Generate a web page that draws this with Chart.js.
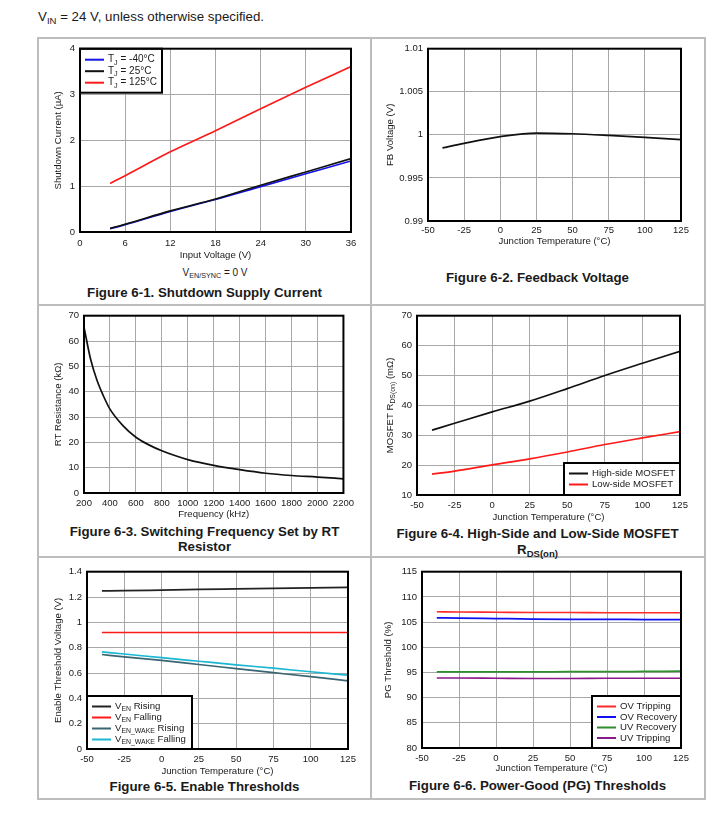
<!DOCTYPE html>
<html>
<head>
<meta charset="utf-8">
<script src="https://cdn.jsdelivr.net/npm/chart.js@4.4.0/dist/chart.umd.min.js"></script>
<style>
body { margin: 0; background: #fff; width: 719px; height: 821px; position: relative; overflow: hidden;
       font-family: "Liberation Sans", Arial, sans-serif; color: #1a1a1a; }
.ln { position: absolute; background: #bdbdbd; }
canvas { position: absolute; }
.txt { position: absolute; white-space: nowrap; transform: translate(-50%, -50%); text-align: center; }
.cap { font-weight: bold; font-size: 13.3px; line-height: 16px; }
sub { font-size: 72%; vertical-align: -0.28em; line-height: 0; }
</style>
</head>
<body>
<div style="position:absolute;left:38px;top:8px;font-size:13.3px;line-height:17px;white-space:nowrap">V<sub>IN</sub> = 24 V, unless otherwise specified.</div>

<!-- cell borders -->
<div class="ln" style="left:37px;top:37px;width:669px;height:2px"></div>
<div class="ln" style="left:37px;top:304px;width:669px;height:2px"></div>
<div class="ln" style="left:37px;top:556px;width:669px;height:2px"></div>
<div class="ln" style="left:37px;top:798px;width:669px;height:2px"></div>
<div class="ln" style="left:37px;top:37px;width:2px;height:763px"></div>
<div class="ln" style="left:370px;top:37px;width:2px;height:763px"></div>
<div class="ln" style="left:704px;top:37px;width:2px;height:763px"></div>

<div class="txt" style="left:215px;top:272px;font-size:10px">V<sub>EN/SYNC</sub> = 0 V</div>
<div class="txt cap" style="left:204.5px;top:293px">Figure 6-1. Shutdown Supply Current</div>
<div class="txt cap" style="left:537.5px;top:278px">Figure 6-2. Feedback Voltage</div>
<div class="txt cap" style="left:204.5px;top:538.5px;line-height:15.5px">Figure 6-3. Switching Frequency Set by RT<br>Resistor</div>
<div class="txt cap" style="left:537.5px;top:542px">Figure 6-4. High-Side and Low-Side MOSFET<br>R<sub>DS(on)</sub></div>
<div class="txt cap" style="left:204.5px;top:787px">Figure 6-5. Enable Thresholds</div>
<div class="txt cap" style="left:537.5px;top:786px">Figure 6-6. Power-Good (PG) Thresholds</div>

<script>
// Figure 6-1: shutdown current vs input voltage
var vinV = [4, 6, 12, 18, 24, 30, 36];
var iqM40 = [0.07, 0.16, 0.45, 0.71, 0.99, 1.27, 1.55];
var iq25 = [0.08, 0.17, 0.46, 0.72, 1.02, 1.31, 1.60];
var iq125 = [1.06, 1.23, 1.75, 2.21, 2.69, 3.16, 3.61];

// shared temperature axis (figures 6-2, 6-4, 6-5, 6-6)
var tempC = [-40, -25, 0, 25, 50, 75, 100, 125];

// Figure 6-2: feedback voltage
var fbVolt = [0.99848, 0.99902, 0.99979, 1.00021, 1.00013, 0.99994, 0.99971, 0.99944];

// Figure 6-3: RT resistance vs frequency
var freqKHz = [200, 250, 300, 350, 400, 500, 600, 700, 800, 900, 1000, 1200, 1400, 1600, 1800, 2000, 2200];
var rtKOhm = [65.5, 53, 44.5, 38.3, 33.1, 26.6, 22, 19, 16.7, 14.8, 13.2, 10.9, 9.2, 7.8, 6.9, 6.3, 5.6];

// Figure 6-4: MOSFET Rds(on)
var rdsHigh = [31.7, 34, 37.8, 41.4, 45.6, 50, 54.1, 58.1];
var rdsLow = [17, 18, 20.1, 22.1, 24.4, 26.9, 29.1, 31.2];

// Figure 6-5: enable thresholds
var enRise = [1.248, 1.25, 1.255, 1.26, 1.264, 1.268, 1.272, 1.276];
var enFall = [0.92, 0.92, 0.92, 0.92, 0.92, 0.92, 0.92, 0.92];
var wakeRise = [0.746, 0.728, 0.700, 0.667, 0.635, 0.603, 0.571, 0.538];
var wakeFall = [0.767, 0.750, 0.721, 0.693, 0.665, 0.638, 0.610, 0.583];

// Figure 6-6: PG thresholds
var ovTrip = [107.05, 107.0, 106.95, 106.9, 106.9, 106.85, 106.85, 106.85];
var ovRec = [105.85, 105.8, 105.7, 105.6, 105.55, 105.55, 105.5, 105.5];
var uvRec = [95.1, 95.1, 95.1, 95.1, 95.15, 95.15, 95.2, 95.25];
var uvTrip = [93.9, 93.9, 93.85, 93.8, 93.8, 93.85, 93.85, 93.85];

var FONT = '"Liberation Sans", Arial, sans-serif';
var GRID = '#a8a8a8';
var TXT = '#1a1a1a';

function fmt(v) { return String(Math.round(v * 10000) / 10000); }

// text with subscripts: segs = [[text, isSub], ...]
function drawRich(ctx, segs, x, y, size, align) {
	var w = 0;
	segs.forEach(function (s) {
		ctx.font = (s[1] ? size * 0.72 : size) + 'px ' + FONT;
		w += ctx.measureText(s[0]).width;
	});
	var cx = align === 'center' ? x - w / 2 : x;
	ctx.textBaseline = 'middle';
	ctx.textAlign = 'left';
	ctx.fillStyle = TXT;
	segs.forEach(function (s) {
		ctx.font = (s[1] ? size * 0.72 : size) + 'px ' + FONT;
		ctx.fillText(s[0], cx, y + (s[1] ? size * 0.3 : 0));
		cx += ctx.measureText(s[0]).width;
	});
}

var framePlugin = {
	id: 'frame',
	afterDraw: function (chart) {
		var a = chart.chartArea, ctx = chart.ctx;
		ctx.save();
		ctx.strokeStyle = '#000';
		ctx.lineWidth = 2;
		ctx.strokeRect(a.left, a.top, a.right - a.left, a.bottom - a.top);
		ctx.restore();
	}
};

function legendPlugin(lg) {
	return {
		id: 'richLegend',
		afterDraw: function (chart) {
			if (!lg) return;
			var a = chart.chartArea, ctx = chart.ctx;
			var x = lg.corner[0] === 'l' ? a.left : a.right - lg.w;
			var y = lg.corner[1] === 't' ? a.top : a.bottom - lg.h;
			ctx.save();
			ctx.fillStyle = '#fff';
			ctx.fillRect(x, y, lg.w, lg.h);
			ctx.strokeStyle = '#000';
			ctx.lineWidth = 2;
			ctx.strokeRect(x, y, lg.w, lg.h);
			lg.rows.forEach(function (r, i) {
				var ry = y + lg.first + i * lg.gap;
				ctx.strokeStyle = r.color;
				ctx.lineWidth = 2;
				ctx.beginPath();
				ctx.moveTo(x + 5, ry);
				ctx.lineTo(x + 24, ry);
				ctx.stroke();
				drawRich(ctx, r.text, x + 28, ry, lg.size || 9.6, 'left');
			});
			ctx.restore();
		}
	};
}

function yTitlePlugin(segs) {
	return {
		id: 'richYTitle',
		afterDraw: function (chart) {
			if (!segs) return;
			var a = chart.chartArea, ctx = chart.ctx;
			ctx.save();
			ctx.translate(6, (a.top + a.bottom) / 2);
			ctx.rotate(-Math.PI / 2);
			drawRich(ctx, segs, 0, 0, 9.6, 'center');
			ctx.restore();
		}
	};
}

function makeChart(c) {
	var L = c.titleX - 6, T = c.plot[1] - 10, R = c.plot[2] + 14, B = c.xTitleY + 6;
	var cv = document.createElement('canvas');
	cv.width = R - L;
	cv.height = B - T;
	cv.style.left = L + 'px';
	cv.style.top = T + 'px';
	cv.style.width = (R - L) + 'px';
	cv.style.height = (B - T) + 'px';
	document.body.appendChild(cv);
	var yW = c.plot[0] - L, xH = B - c.plot[3];
	var tickFont = { family: FONT, size: 9.5, lineHeight: 1.2 };
	var titleFont = { family: FONT, size: 9.6, lineHeight: 1.25 };

	var datasets = c.series.map(function (s) {
		return {
			label: s.label,
			data: c.xs.map(function (x, i) { return { x: x, y: s.data[i] }; }),
			borderColor: s.color,
			borderWidth: 1.7,
			pointRadius: 0,
			fill: false,
			order: s.order || 0,
			cubicInterpolationMode: 'monotone'
		};
	});

	new Chart(cv, {
		type: 'line',
		data: { datasets: datasets },
		options: {
			responsive: false,
			animation: false,
			layout: { padding: { left: 0, top: 10, right: 14, bottom: 0 } },
			plugins: { legend: { display: false }, tooltip: { enabled: false } },
			scales: {
				x: {
					type: 'linear', min: c.xMin, max: c.xMax,
					afterFit: function (s) { s.height = xH; },
					ticks: { stepSize: c.xStep, autoSkip: false, maxRotation: 0, padding: c.xPad || 5,
						font: tickFont, color: TXT, callback: fmt },
					grid: { color: GRID, drawTicks: false, lineWidth: 1 },
					border: { display: false },
					title: { display: true, text: c.xTitle, font: titleFont, color: TXT, padding: 0 }
				},
				y: {
					type: 'linear', min: c.yMin, max: c.yMax,
					afterFit: function (s) { s.width = yW; },
					ticks: { stepSize: c.yStep, autoSkip: false, padding: 5,
						font: tickFont, color: TXT, callback: fmt },
					grid: { color: GRID, drawTicks: false, lineWidth: 1 },
					border: { display: false },
					title: { display: !c.yRich, text: c.yTitle, font: titleFont, color: TXT, padding: 0 }
				}
			}
		},
		plugins: [legendPlugin(c.legend), framePlugin, yTitlePlugin(c.yRich)]
	});
}

// Figure 6-1
makeChart({
	plot: [80, 48, 351, 232], titleX: 58, xTitleY: 255, xPad: 6,
	xs: vinV, xMin: 0, xMax: 36, xStep: 6, yMin: 0, yMax: 4, yStep: 1,
	xTitle: 'Input Voltage (V)', yTitle: 'Shutdown Current (\u00b5A)',
	series: [
		{ label: 'TJ = -40°C', data: iqM40, color: '#1414e6', order: 2 },
		{ label: 'TJ = 25°C', data: iq25, color: '#111111', order: 1 },
		{ label: 'TJ = 125°C', data: iq125, color: '#ff1a1a', order: 3 }
	],
	legend: { corner: 'lt', w: 82, h: 44, first: 11, gap: 11.5, size: 10, rows: [
		{ color: '#1414e6', text: [['T', 0], ['J', 1], [' = -40°C', 0]] },
		{ color: '#111111', text: [['T', 0], ['J', 1], [' = 25°C', 0]] },
		{ color: '#ff1a1a', text: [['T', 0], ['J', 1], [' = 125°C', 0]] }
	] }
});

// Figure 6-2
makeChart({
	plot: [428, 48, 681, 221], titleX: 390, xTitleY: 241, xPad: 4,
	xs: tempC, xMin: -50, xMax: 125, xStep: 25, yMin: 0.99, yMax: 1.01, yStep: 0.005,
	xTitle: 'Junction Temperature (°C)', yTitle: 'FB Voltage (V)',
	series: [{ label: 'FB', data: fbVolt, color: '#111111' }]
});

// Figure 6-3
makeChart({
	plot: [84, 315, 345, 493], titleX: 58, xTitleY: 514,
	xs: freqKHz, xMin: 200, xMax: 2200, xStep: 200, yMin: 0, yMax: 70, yStep: 10,
	xTitle: 'Frequency (kHz)', yTitle: 'RT Resistance (k\u03a9)',
	series: [{ label: 'RT', data: rtKOhm, color: '#111111' }]
});

// Figure 6-4
makeChart({
	plot: [417, 315, 680, 495], titleX: 390, xTitleY: 517,
	xs: tempC, xMin: -50, xMax: 125, xStep: 25, yMin: 10, yMax: 70, yStep: 10,
	xTitle: 'Junction Temperature (°C)', yTitle: 'MOSFET RDS(on) (m\u03a9)',
	yRich: [['MOSFET R', 0], ['DS(on)', 1], [' (m\u03a9)', 0]],
	series: [
		{ label: 'High-side MOSFET', data: rdsHigh, color: '#111111' },
		{ label: 'Low-side MOSFET', data: rdsLow, color: '#ff1a1a' }
	],
	legend: { corner: 'rb', w: 116, h: 32, first: 10.5, gap: 11, rows: [
		{ color: '#111111', text: [['High-side MOSFET', 0]] },
		{ color: '#ff1a1a', text: [['Low-side MOSFET', 0]] }
	] }
});

// Figure 6-5
makeChart({
	plot: [87, 571, 348, 749], titleX: 58, xTitleY: 771,
	xs: tempC, xMin: -50, xMax: 125, xStep: 25, yMin: 0, yMax: 1.4, yStep: 0.2,
	xTitle: 'Junction Temperature (°C)', yTitle: 'Enable Threshold Voltage (V)',
	series: [
		{ label: 'VEN Rising', data: enRise, color: '#222222' },
		{ label: 'VEN Falling', data: enFall, color: '#ff1a1a' },
		{ label: 'VEN_WAKE Rising', data: wakeRise, color: '#3a6573' },
		{ label: 'VEN_WAKE Falling', data: wakeFall, color: '#1ab6d2' }
	],
	legend: { corner: 'lb', w: 105, h: 53, first: 10.5, gap: 11, rows: [
		{ color: '#222222', text: [['V', 0], ['EN', 1], [' Rising', 0]] },
		{ color: '#ff1a1a', text: [['V', 0], ['EN', 1], [' Falling', 0]] },
		{ color: '#3a6573', text: [['V', 0], ['EN_WAKE', 1], [' Rising', 0]] },
		{ color: '#1ab6d2', text: [['V', 0], ['EN_WAKE', 1], [' Falling', 0]] }
	] }
});

// Figure 6-6
makeChart({
	plot: [422, 571, 681, 748], titleX: 388, xTitleY: 768,
	xs: tempC, xMin: -50, xMax: 125, xStep: 25, yMin: 80, yMax: 115, yStep: 5,
	xTitle: 'Junction Temperature (°C)', yTitle: 'PG Threshold (%)',
	series: [
		{ label: 'OV Tripping', data: ovTrip, color: '#ff2a2a' },
		{ label: 'OV Recovery', data: ovRec, color: '#1010f0' },
		{ label: 'UV Recovery', data: uvRec, color: '#2f8f2f' },
		{ label: 'UV Tripping', data: uvTrip, color: '#8a1a8a' }
	],
	legend: { corner: 'rb', w: 89, h: 52, first: 10.5, gap: 10.5, rows: [
		{ color: '#ff2a2a', text: [['OV Tripping', 0]] },
		{ color: '#1010f0', text: [['OV Recovery', 0]] },
		{ color: '#2f8f2f', text: [['UV Recovery', 0]] },
		{ color: '#8a1a8a', text: [['UV Tripping', 0]] }
	] }
});
</script>
</body>
</html>
